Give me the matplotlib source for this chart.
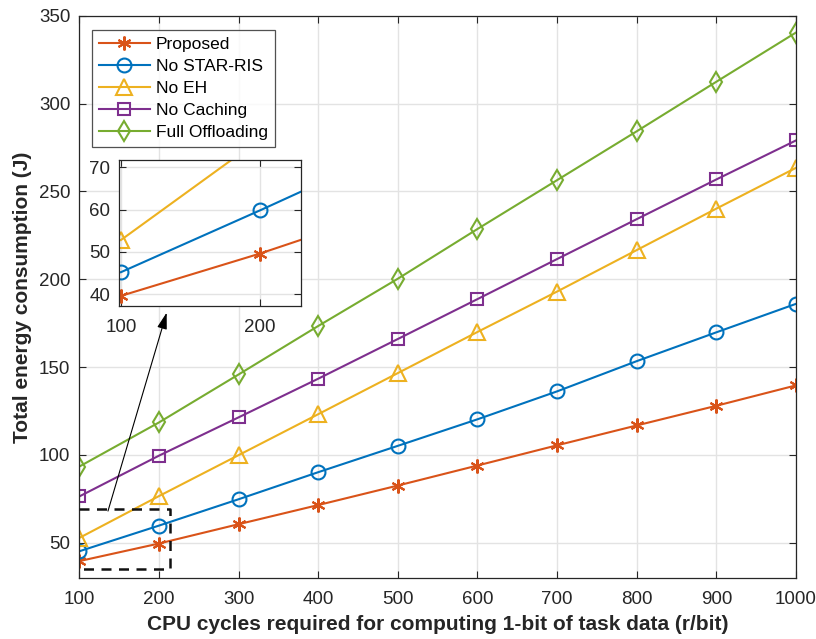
import matplotlib
matplotlib.use('Agg')
import matplotlib.pyplot as plt
from matplotlib import font_manager

# CPU cycles per bit and the total energy of each scheme
cycles = [100, 200, 300, 400, 500, 600, 700, 800, 900, 1000]
proposed = [39.6, 49.6, 60.6, 71.5, 82.6, 94.0, 105.5, 116.8, 128.0, 139.6]
no_star_ris = [45.2, 59.8, 74.8, 90.2, 105.2, 120.3, 136.2, 153.4, 169.8, 186.0]
no_eh = [52.8, 76.6, 99.9, 123.2, 146.6, 170.0, 193.0, 216.6, 240.2, 263.4]
no_caching = [76.4, 99.6, 121.4, 143.4, 166.0, 188.7, 211.5, 234.2, 256.8, 279.0]
full_offloading = [93.4, 118.5, 145.8, 173.4, 200.3, 228.6, 256.4, 284.2, 312.4, 340.4]

labels = ['Proposed', 'No STAR-RIS', 'No EH', 'No Caching', 'Full Offloading']
series = [proposed, no_star_ris, no_eh, no_caching, full_offloading]
colors = ['#D95319', '#0072BD', '#EDB120', '#7E2F8E', '#77AC30']
markers = [(6, 2, 0), 'o', '^', 's', 'd']
msizes = [10, 10, 11, 8, 10]

names = {f.name for f in font_manager.fontManager.ttflist}
narrow = 'Liberation Sans Narrow' if 'Liberation Sans Narrow' in names else 'Liberation Sans'
plt.rcParams['font.family'] = ['Liberation Sans', 'DejaVu Sans']

ink = '#262626'

fig = plt.figure(figsize=(8.16, 6.39), dpi=100)
ax = fig.add_axes([0.0972, 0.0955, 0.8783, 0.88])


def draw_series(a, lw=1.5):
    handles = []
    for y, lab, c, m, ms in zip(series, labels, colors, markers, msizes):
        h, = a.plot(cycles, y, color=c, marker=m, markersize=ms,
                    markerfacecolor='none', markeredgecolor=c,
                    markeredgewidth=1.5, linewidth=lw, label=lab)
        handles.append(h)
    return handles


def style_axes(a, size):
    a.grid(True, color='#e3e3e3', linewidth=1.0)
    a.set_axisbelow(True)
    a.tick_params(direction='in', top=True, right=True, colors=ink,
                  labelsize=size, length=5, width=0.8)
    a.tick_params(axis='x', pad=9.5)
    a.tick_params(axis='y', pad=6.5)
    for s in a.spines.values():
        s.set_color(ink)
        s.set_linewidth(0.9)
    for t in a.get_xticklabels() + a.get_yticklabels():
        t.set_family(narrow)


draw_series(ax)
ax.set_xlim(100, 1000)
ax.set_ylim(30, 350)
ax.set_xticks(cycles)
ax.set_yticks([50, 100, 150, 200, 250, 300, 350])
style_axes(ax, 13.5)
ax.set_xlabel('CPU cycles required for computing 1-bit of task data (r/bit)',
              fontsize=15, fontweight='bold', color=ink, family=narrow)
ax.set_ylabel('Total energy consumption (J)', fontsize=15, fontweight='bold',
              color=ink, family=narrow)
ax.xaxis.set_label_coords(0.5, -0.066)
ax.yaxis.set_label_coords(-0.066, 0.5)

leg = ax.legend(loc='upper left', bbox_to_anchor=(0.0182, 0.975), fontsize=12.5,
                frameon=True, fancybox=False, handlelength=2.9, borderpad=0.4,
                labelspacing=0.4, handletextpad=0.35, borderaxespad=0)
leg.get_frame().set_edgecolor(ink)
leg.get_frame().set_linewidth(0.9)

# dashed box around the zoomed region
ax.plot([100, 214, 214, 100], [69.1, 69.1, 35.1, 35.1], color='#111111',
        linestyle=(0, (4, 3)), linewidth=1.8, clip_on=False, zorder=5)

# arrow from the box to the inset
ax.annotate('', xy=(209.7, 181), xytext=(136, 68.1),
            arrowprops=dict(arrowstyle='-|>,head_length=1.0,head_width=0.3',
                            color='black', linewidth=0.8, shrinkA=0, shrinkB=0))

# inset
ins = fig.add_axes([0.1462, 0.5211, 0.2227, 0.2285])
ins.set_facecolor('white')
draw_series(ins)
ins.set_xlim(98.8, 229.5)
ins.set_ylim(37.2, 71.7)
ins.set_xticks([100, 200])
ins.set_yticks([40, 50, 60, 70])
style_axes(ins, 13.5)

fig.savefig('out.png', dpi=100)
